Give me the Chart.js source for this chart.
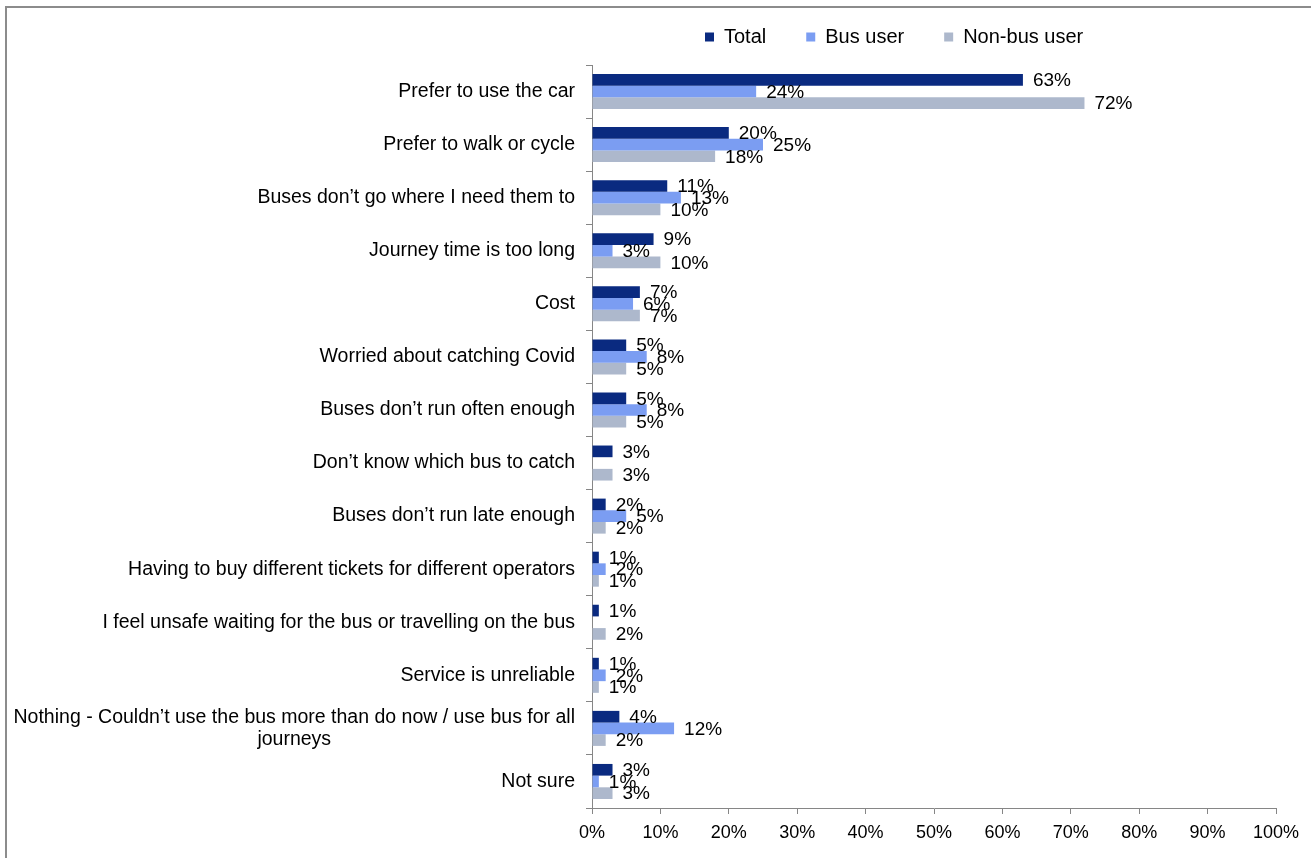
<!DOCTYPE html>
<html>
<head>
<meta charset="utf-8">
<title>Reasons for not using the bus more</title>
<script src="https://cdn.jsdelivr.net/npm/chart.js@4/dist/chart.umd.min.js"></script>
<style>
  html, body { margin: 0; padding: 0; background: #fff; overflow: hidden; }
  .frame {
    position: absolute; left: 5px; top: 6px;
    width: 1320px; height: 870px;
    border-top: 2px solid #8c8c8c; border-left: 2px solid #8c8c8c;
  }
  .frame canvas { position: absolute; left: 0; top: 0; }
</style>
</head>
<body>
<div class="frame">
  <canvas id="reasonsChart" width="1304" height="850"></canvas>
</div>
<script>
var reasons = [
  'Prefer to use the car',
  'Prefer to walk or cycle',
  'Buses don\u2019t go where I need them to',
  'Journey time is too long',
  'Cost',
  'Worried about catching Covid',
  'Buses don\u2019t run often enough',
  'Don\u2019t know which bus to catch',
  'Buses don\u2019t run late enough',
  'Having to buy different tickets for different operators',
  'I feel unsafe waiting for the bus or travelling on the bus',
  'Service is unreliable',
  ['Nothing - Couldn\u2019t use the bus more than do now / use bus for all', 'journeys'],
  'Not sure'
];
var totalPct   = [63, 20, 11, 9, 7, 5, 5, 3, 2, 1, 1, 1, 4, 3];
var busUserPct = [24, 25, 13, 3, 6, 8, 8, 0, 5, 2, 0, 2, 12, 1];
var nonBusPct  = [72, 18, 10, 10, 7, 5, 5, 3, 2, 1, 2, 1, 2, 3];
var xTicks = [0, 10, 20, 30, 40, 50, 60, 70, 80, 90, 100];

var FONT = 'Arial, "Liberation Sans", sans-serif';
var AXIS_GREY = '#868686';

// category names drawn by hand so the wrapped one can be centred as a block
var categoryLabels = {
  id: 'categoryLabels',
  afterDraw: function(chart) {
    var ctx = chart.ctx, y = chart.scales.y;
    var right = chart.chartArea.left - 17;
    var lineH = 22;
    ctx.save();
    ctx.font = '19.5px ' + FONT;
    ctx.fillStyle = '#000';
    ctx.textBaseline = 'middle';
    chart.data.labels.forEach(function(lab, i) {
      var lines = Array.isArray(lab) ? lab : [lab];
      var cy = y.getPixelForValue(i);
      var blockW = 0;
      lines.forEach(function(l) { blockW = Math.max(blockW, ctx.measureText(l).width); });
      lines.forEach(function(l, k) {
        var ly = cy + (k - (lines.length - 1) / 2) * lineH;
        if (lines.length > 1) {
          ctx.textAlign = 'center';
          ctx.fillText(l, right - blockW / 2, ly);
        } else {
          ctx.textAlign = 'right';
          ctx.fillText(l, right, ly);
        }
      });
    });
    ctx.restore();
  }
};

// percentage labels just past the end of each bar (zero bars get none)
var valueLabels = {
  id: 'valueLabels',
  afterDatasetsDraw: function(chart) {
    var ctx = chart.ctx;
    ctx.save();
    ctx.font = '19px ' + FONT;
    ctx.fillStyle = '#000';
    ctx.textAlign = 'left';
    ctx.textBaseline = 'middle';
    chart.data.datasets.forEach(function(ds, di) {
      var meta = chart.getDatasetMeta(di);
      meta.data.forEach(function(bar, i) {
        var v = ds.data[i];
        if (!v) return;
        ctx.fillText(v + '%', bar.x + 10, bar.y + 1);
      });
    });
    ctx.restore();
  }
};

// legend sits above the plot, a little left of centre, on one line
var legendPlacement = {
  id: 'legendPlacement',
  afterLayout: function(chart) {
    var lg = chart.legend;
    if (!lg) return;
    var pad = lg.options.labels.padding;
    lg.left = 698 - pad;
    lg.right = chart.width;
    lg.top = 29 - pad - 10;
  }
};

new Chart(document.getElementById('reasonsChart'), {
  type: 'bar',
  data: {
    labels: reasons,
    datasets: [
      { label: 'Total', data: totalPct, backgroundColor: '#0a2a80' },
      { label: 'Bus user', data: busUserPct, backgroundColor: '#7b9df2' },
      { label: 'Non-bus user', data: nonBusPct, backgroundColor: '#adb8cc' }
    ]
  },
  options: {
    indexAxis: 'y',
    responsive: false,
    animation: false,
    events: [],
    datasets: { bar: { categoryPercentage: 0.66, barPercentage: 1.0, borderWidth: 0 } },
    layout: { padding: { top: 37, right: 35, left: 0, bottom: 0 } },
    plugins: {
      tooltip: { enabled: false },
      legend: {
        position: 'top',
        align: 'start',
        maxHeight: 20,
        labels: {
          boxWidth: 9,
          boxHeight: 9,
          padding: 40,
          color: '#000',
          font: { family: FONT, size: 20 }
        }
      }
    },
    scales: {
      y: {
        offset: true,
        border: { display: true, color: AXIS_GREY, width: 1 },
        grid: { display: true, drawOnChartArea: false, offset: true, tickLength: 6, color: AXIS_GREY },
        ticks: { display: false },
        afterFit: function(scale) { scale.width = 585; }
      },
      x: {
        min: xTicks[0],
        max: xTicks[xTicks.length - 1],
        border: { display: true, color: AXIS_GREY, width: 1 },
        grid: { display: true, drawOnChartArea: false, tickLength: 6, color: AXIS_GREY },
        afterBuildTicks: function(scale) {
          scale.ticks = xTicks.map(function(v) { return { value: v }; });
        },
        ticks: {
          padding: 8,
          color: '#000',
          font: { family: FONT, size: 18 },
          maxRotation: 0,
          callback: function(v) { return v + '%'; }
        },
        afterFit: function(scale) { scale.height = 50; }
      }
    }
  },
  plugins: [categoryLabels, valueLabels, legendPlacement]
});
</script>
</body>
</html>
